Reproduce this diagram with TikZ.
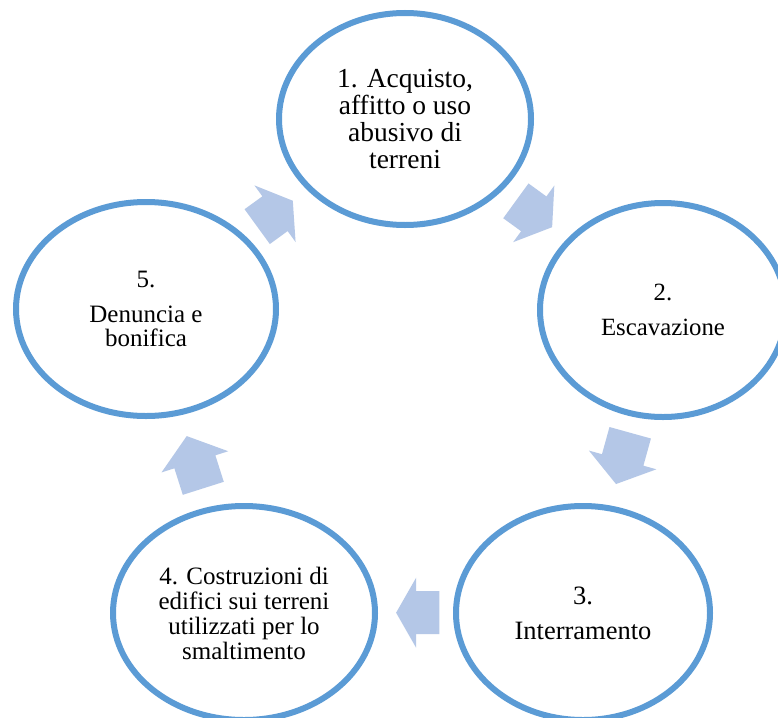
\documentclass[tikz,border=0pt]{standalone}
\usepackage{fontspec}
\setmainfont{Liberation Serif}
\usetikzlibrary{shapes.geometric}
\definecolor{ringblue}{HTML}{5B9BD5}
\definecolor{arrowblue}{HTML}{B4C7E7}
\newcommand\fs[2]{\fontsize{#1pt}{#2pt}\selectfont}
% block arrow: center x, center y, angle, half length, head length
\newcommand\cycarrow[5]{%
  \fill[arrowshape, shift={(#1,#2)}, rotate=#3]
    (-#4,-21.5) -- ({#4-#5},-21.5) -- ({#4-#5},-35) -- (#4,0)
    -- ({#4-#5},35) -- ({#4-#5},21.5) -- (-#4,21.5) -- cycle;}
\tikzset{
  stage/.style={ellipse, draw=ringblue, line width=6pt, fill=white,
    align=center, inner sep=0pt, text=black},
  arrowshape/.style={fill=arrowblue}
}
\begin{document}
\begin{tikzpicture}[x=1pt, y=-1pt]
\useasboundingbox (0,0) rectangle (778,717);
\clip (0,0) rectangle (778,717);
\fill[white] (0,0) rectangle (778,717);

% arrows
\cycarrow{275}{213.7}{36}{22}{22}
\cycarrow{534}{214}{-36}{22.4}{22.7}
\cycarrow{623.1}{458.4}{-105.5}{26.6}{25}
\cycarrow{417.7}{612.7}{180}{21.6}{20}
\cycarrow{195}{462.2}{107.6}{27.4}{27}

% stages
\node[stage, minimum width=252pt, minimum height=212pt, font=\fs{27.5}{27}]
  (s1) at (405,119) {1. Acquisto,\\affitto o uso\\abusivo di\\terreni};
\node[stage, minimum width=246pt, minimum height=214pt, font=\fs{24.8}{24.8}]
  (s2) at (663,310) {2.\\[10pt]Escavazione};
\node[stage, minimum width=254pt, minimum height=214pt, font=\fs{26.5}{26.5}]
  (s3) at (583,613) {3.\\[8.5pt]Interramento};
\node[stage, minimum width=262pt, minimum height=214pt, font=\fs{25}{25}]
  (s4) at (244,613) {4. Costruzioni di\\edifici sui terreni\\utilizzati per lo\\smaltimento};
\node[stage, minimum width=260pt, minimum height=214pt, font=\fs{25}{23.5}]
  (s5) at (146,309) {5.\\[11.5pt]Denuncia e\\bonifica};
\end{tikzpicture}
\end{document}
